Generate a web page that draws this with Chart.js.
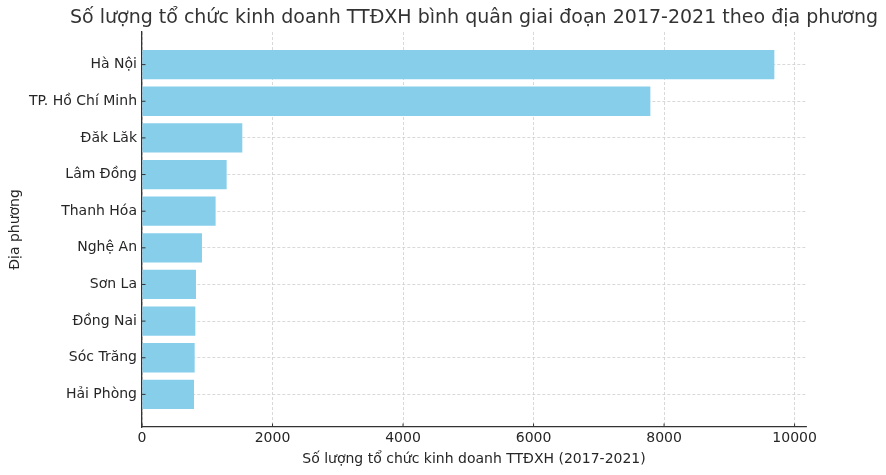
<!DOCTYPE html>
<html>
<head>
<meta charset="utf-8">
<script src="https://cdn.jsdelivr.net/npm/chart.js@4"></script>
<style>
  body { margin: 0; background: #fff; }
</style>
</head>
<body>
<canvas id="chart" width="886" height="475"></canvas>
<script>
const provinces = ['Hà Nội', 'TP. Hồ Chí Minh', 'Đăk Lăk', 'Lâm Đồng', 'Thanh Hóa',
    'Nghệ An', 'Sơn La', 'Đồng Nai', 'Sóc Trăng', 'Hải Phòng'];
const orgCounts = [9690, 7790, 1537, 1297, 1128, 919, 827, 817, 807, 797];
const xTicks = [0, 2000, 4000, 6000, 8000, 10000];

const titleText = 'Số lượng tổ chức kinh doanh TTĐXH bình quân giai đoạn 2017-2021 theo địa phương';
const xLabel = 'Số lượng tổ chức kinh doanh TTĐXH (2017-2021)';
const yLabel = 'Địa phương';

const textColor = '#262626';
const axisColor = '#333333';
const gridColor = '#cfcfcf';
const fontFamily = 'DejaVu Sans';

// matplotlib-like limits: bars are 0.8 high, 5% margin
const yMin = -0.89;
const yMax = provinces.length - 1 + 0.89;
const xMax = 10175;

const points = orgCounts.map((v, i) => ({ x: v, y: i }));

// grid lines dashed, axis lines solid
const gridDash = (c) => (c.type === 'tick' ? [3, 2] : []);

// title centred over the plot area, wider than it (like matplotlib)
const plotTitle = {
    id: 'plotTitle',
    afterDraw(chart) {
        const { ctx, chartArea } = chart;
        ctx.save();
        ctx.fillStyle = axisColor;
        ctx.font = `19px "${fontFamily}"`;
        ctx.textAlign = 'center';
        ctx.textBaseline = 'middle';
        ctx.fillText(titleText, (chartArea.left + chartArea.right) / 2, 18);
        ctx.restore();
    },
};

// short tick marks pointing into the plot area
const innerTicks = {
    id: 'innerTicks',
    afterDatasetsDraw(chart) {
        const { ctx, chartArea, scales } = chart;
        const len = 3.5;
        ctx.save();
        ctx.strokeStyle = axisColor;
        ctx.lineWidth = 1;
        ctx.beginPath();
        scales.x.ticks.forEach(t => {
            const px = scales.x.getPixelForValue(t.value);
            ctx.moveTo(px, chartArea.bottom);
            ctx.lineTo(px, chartArea.bottom - len);
        });
        scales.y.ticks.forEach(t => {
            const py = scales.y.getPixelForValue(t.value);
            ctx.moveTo(chartArea.left, py);
            ctx.lineTo(chartArea.left + len, py);
        });
        ctx.stroke();
        ctx.restore();
    },
};

const ctx = document.getElementById('chart').getContext('2d');
new Chart(ctx, {
    type: 'bar',
    data: {
        datasets: [{
            data: points,
            backgroundColor: '#87CEEB',
            borderWidth: 0,
            categoryPercentage: 1,
            barPercentage: 0.8,
        }],
    },
    options: {
        indexAxis: 'y',
        responsive: false,
        animation: false,
        devicePixelRatio: 1,
        layout: { padding: { left: 0, right: 80, top: 32, bottom: 0 } },
        plugins: {
            legend: { display: false },
            tooltip: { enabled: false },
            title: { display: false },
        },
        scales: {
            x: {
                type: 'linear',
                min: 0,
                max: xMax,
                afterFit: (scale) => { scale.height = 48; },
                afterBuildTicks: (scale) => { scale.ticks = xTicks.map(v => ({ value: v })); },
                border: { display: true, color: axisColor, width: 1.3, dash: gridDash },
                grid: {
                    color: gridColor,
                    lineWidth: 0.8,
                    drawTicks: false,
                },
                ticks: {
                    color: textColor,
                    padding: 3,
                    font: { family: fontFamily, size: 14 },
                    callback: (v) => String(v),
                },
                title: {
                    display: true,
                    text: xLabel,
                    color: textColor,
                    font: { family: fontFamily, size: 14 },
                    padding: { top: 2, bottom: 7 },
                },
            },
            y: {
                type: 'linear',
                reverse: true,
                offset: false,
                min: yMin,
                max: yMax,
                afterFit: (scale) => { scale.width = 142; },
                afterBuildTicks: (scale) => { scale.ticks = provinces.map((p, i) => ({ value: i })); },
                border: { display: true, color: axisColor, width: 1.3, dash: gridDash },
                grid: {
                    offset: false,
                    color: gridColor,
                    lineWidth: 0.8,
                    drawTicks: false,
                },
                ticks: {
                    color: textColor,
                    padding: 5,
                    font: { family: fontFamily, size: 14 },
                    callback: (v) => provinces[v] ?? '',
                },
                title: {
                    display: true,
                    text: yLabel,
                    color: textColor,
                    font: { family: fontFamily, size: 14 },
                    padding: { top: 7, bottom: 2 },
                },
            },
        },
    },
    plugins: [plotTitle, innerTicks],
});
</script>
</body>
</html>
